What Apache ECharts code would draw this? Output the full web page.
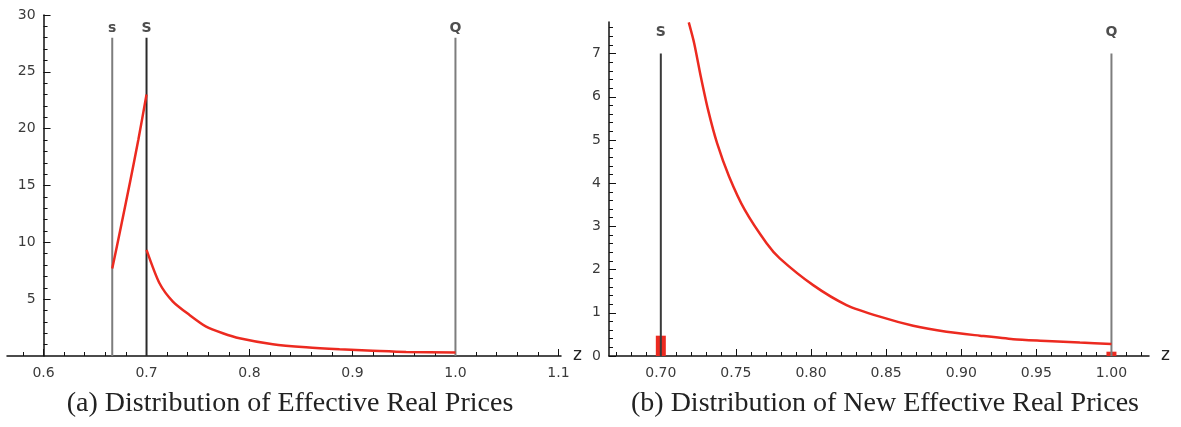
<!DOCTYPE html>
<html>
<head>
<meta charset="utf-8">
<script src="https://cdn.jsdelivr.net/npm/echarts@6/dist/echarts.min.js"></script>
<style>
  html, body { margin: 0; padding: 0; background: #fff; }
  #chart { width: 1181px; height: 427px; }
</style>
</head>
<body>
<div id="chart"></div>
<script>
// panel (a): effective real prices
const aRiseZ = [0.6667, 0.675, 0.6842, 0.692, 0.7];
const aRiseV = [7.7, 11.3, 15.4, 19.0, 23.0];
const aFallZ = [0.7, 0.7126, 0.7256, 0.7417, 0.7579, 0.7741, 0.7903, 0.8226, 0.855, 0.8874, 0.9197, 0.9521, 1.0];
const aFallV = [9.34, 6.4, 4.79, 3.61, 2.58, 2.0, 1.56, 1.03, 0.76, 0.59, 0.47, 0.36, 0.3];
const aMarkNames = ['s', 'S', 'Q'];
const aMarkZ = [0.6667, 0.7, 1.0];
const aMarkColors = ['#7d7d7d', '#2a2a2a', '#7d7d7d'];
const aMarkTop = 28;
const aXLabels = [0.6, 0.7, 0.8, 0.9, 1.0, 1.1];
const aYLabels = [5, 10, 15, 20, 25, 30];

// panel (b): new effective real prices
const bCurveZ = [0.7186, 0.7222, 0.7266, 0.7315, 0.7375, 0.7455, 0.7559, 0.7704, 0.7792, 0.8014, 0.8236, 0.8458, 0.868, 0.8902, 0.9124, 0.9346, 0.9568, 0.979, 1.0];
const bCurveV = [7.72, 7.24, 6.47, 5.69, 4.92, 4.15, 3.38, 2.61, 2.26, 1.64, 1.18, 0.91, 0.7, 0.56, 0.47, 0.39, 0.35, 0.31, 0.28];
const bMassZ = [0.7, 1.0];
const bMassV = [0.47, 0.1];
const bMarkNames = ['S', 'Q'];
const bMarkZ = [0.7, 1.0];
const bMarkColors = ['#3a3a3a', '#7d7d7d'];
const bMarkTop = 7;
const bXLabels = [0.70, 0.75, 0.80, 0.85, 0.90, 0.95, 1.00];
const bYLabels = [0, 1, 2, 3, 4, 5, 6, 7];

function steps(a, b, d) {
  const out = [];
  for (let v = a; v <= b + d / 2; v += d) out.push(Math.round(v * 1000) / 1000);
  return out;
}
const zip = (xs, ys) => xs.map((x, i) => [x, ys[i]]);

const RED = '#ec2a20';
const labelFont = { color: '#3a3a3a', fontFamily: 'DejaVu Sans', fontSize: 14 };

// grid geometry
const aMin = 0.5645, aMax = 1.1025, aLeft = 7, aRight = 620;
const aWidth = 1181 - aLeft - aRight;
const aYOffset = -(0.6 - aMin) * aWidth / (aMax - aMin);

function xAxes(grid, min, max, minor, major, digits) {
  return [
    {
      type: 'value', gridIndex: grid, min: min, max: max, position: 'bottom',
      axisLine: { onZero: false, lineStyle: { color: '#111', width: 1.5 } },
      axisTick: { inside: true, length: 4, customValues: minor, lineStyle: { color: '#111' } },
      axisLabel: { show: false }, splitLine: { show: false },
      name: 'z', nameLocation: 'end', nameGap: 12,
      nameTextStyle: { color: '#222', fontFamily: 'DejaVu Sans', fontSize: 17, verticalAlign: 'middle' }
    },
    {
      type: 'value', gridIndex: grid, min: min, max: max, position: 'bottom',
      axisLine: { show: false, onZero: false },
      axisTick: { inside: true, length: 7, customValues: major, lineStyle: { color: '#111' } },
      axisLabel: Object.assign({ customValues: major, margin: 10, formatter: v => v.toFixed(digits) }, labelFont),
      splitLine: { show: false }
    }
  ];
}
function yAxes(grid, max, minor, major, offset) {
  return [
    {
      type: 'value', gridIndex: grid, min: 0, max: max, position: 'left', offset: offset,
      axisLine: { onZero: false, lineStyle: { color: '#111', width: 1.5 } },
      axisTick: { inside: true, length: 4, customValues: minor, lineStyle: { color: '#111' } },
      axisLabel: { show: false }, splitLine: { show: false }
    },
    {
      type: 'value', gridIndex: grid, min: 0, max: max, position: 'left', offset: offset,
      axisLine: { show: false, onZero: false },
      axisTick: { inside: true, length: 7, customValues: major, lineStyle: { color: '#111' } },
      axisLabel: Object.assign({ customValues: major, margin: 8 }, labelFont),
      splitLine: { show: false }
    }
  ];
}

function markerSeries(names, zs, colors, top, labelY, xi, yi) {
  const out = [];
  names.forEach((n, i) => {
    out.push({
      type: 'line', xAxisIndex: xi, yAxisIndex: yi, symbol: 'none', silent: true,
      lineStyle: { color: colors[i], width: 2 }, data: [[zs[i], 0], [zs[i], top]], z: 3
    });
  });
  out.push({
    type: 'scatter', xAxisIndex: xi, yAxisIndex: yi, symbolSize: 1, silent: true,
    itemStyle: { color: 'rgba(0,0,0,0)' },
    label: { show: true, position: 'inside', formatter: p => p.name, color: '#222',
      fontFamily: 'DejaVu Sans', fontSize: 14, fontWeight: 'bold' },
    data: names.map((n, i) => ({ name: n, value: [zs[i], labelY] }))
  });
  return out;
}

function curve(xi, yi, zs, vs) {
  return { type: 'line', xAxisIndex: xi, yAxisIndex: yi, symbol: 'none', smooth: 0.25,
    lineStyle: { color: RED, width: 2.5 }, data: zip(zs, vs), z: 4 };
}

const chart = echarts.init(document.getElementById('chart'));
chart.setOption({
  backgroundColor: '#fff',
  animation: false,
  grid: [
    { left: aLeft, right: aRight, top: 15, bottom: 71 },
    { left: 609, right: 32, top: 22, bottom: 71 }
  ],
  xAxis: [].concat(
    xAxes(0, aMin, aMax, steps(0.58, 1.1, 0.02), aXLabels, 1),
    xAxes(1, 0.6655, 1.025, steps(0.67, 1.02, 0.01), bXLabels, 2)
  ),
  yAxis: [].concat(
    yAxes(0, 30, steps(1, 30, 1), aYLabels, aYOffset),
    yAxes(1, 7.73, steps(0.2, 7.6, 0.2), bYLabels, 0)
  ),
  series: [].concat(
    [{ type: 'bar', xAxisIndex: 2, yAxisIndex: 2, barWidth: 10, silent: true,
       itemStyle: { color: RED }, data: zip(bMassZ, bMassV), z: 2 }],
    markerSeries(aMarkNames, aMarkZ, aMarkColors, aMarkTop, 28.8, 0, 0),
    markerSeries(bMarkNames, bMarkZ, bMarkColors, bMarkTop, 7.5, 2, 2),
    [
      curve(0, 0, aRiseZ, aRiseV),
      curve(0, 0, aFallZ, aFallV),
      curve(2, 2, bCurveZ, bCurveV)
    ]
  ),
  graphic: [
    { type: 'text', x: 290, y: 404, style: { text: '(a) Distribution of Effective Real Prices',
      font: '28px "Liberation Serif"', fill: '#222', textAlign: 'center', textVerticalAlign: 'middle' } },
    { type: 'text', x: 885, y: 404, style: { text: '(b) Distribution of New Effective Real Prices',
      font: '28px "Liberation Serif"', fill: '#222', textAlign: 'center', textVerticalAlign: 'middle' } }
  ]
});
window.addEventListener('resize', () => chart.resize());
</script>
</body>
</html>
